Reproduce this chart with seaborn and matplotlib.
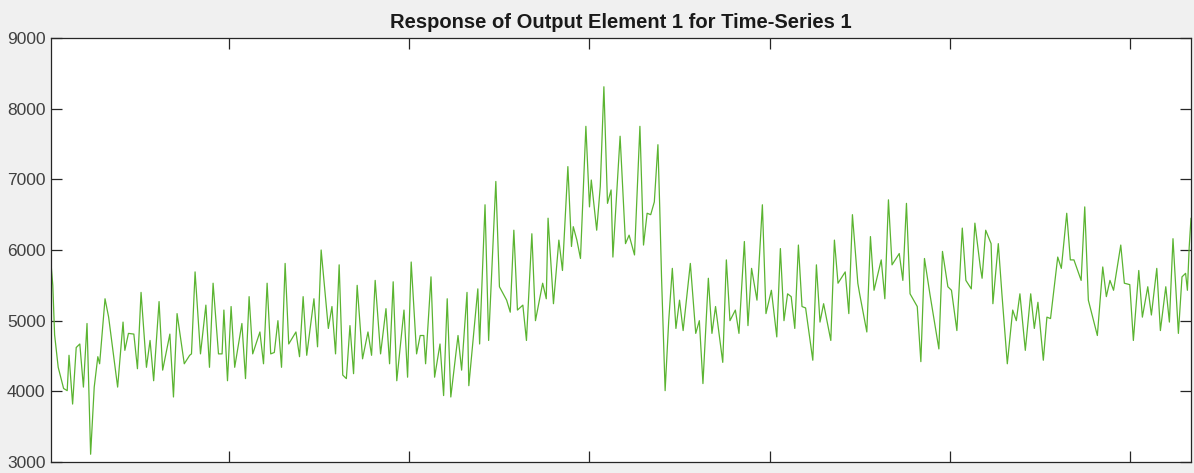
import matplotlib
matplotlib.use("Agg")
import matplotlib.pyplot as plt
import seaborn as sns
import pandas as pd

# Sample index (time step) and response value at the visible turning points
sample_idx = [
    1, 2, 3, 5, 8, 10, 11, 13, 15, 17, 19, 21, 23, 25, 27, 28, 31, 33, 38, 41,
    42, 44, 47, 49, 51, 54, 56, 58, 61, 63, 67, 69, 71, 75, 78, 79, 81, 84, 87, 89,
    91, 94, 96, 97, 99, 101, 103, 107, 109, 111, 113, 117, 119, 121, 123, 125, 127, 129, 131, 133,
    137, 139, 141, 143, 147, 149, 151, 155, 157, 159, 161, 163, 165, 167, 169, 171, 174, 177, 179, 181,
    184, 187, 189, 191, 193, 197, 199, 201, 204, 206, 208, 209, 212, 214, 217, 219, 221, 223, 227, 229,
    232, 233, 238, 239, 242, 244, 248, 250, 254, 256, 258, 260, 263, 265, 268, 270, 274, 276, 277, 280,
    283, 285, 288, 290, 291, 293, 295, 298, 300, 301, 304, 306, 308, 310, 312, 313, 317, 320, 322, 325,
    328, 330, 332, 334, 336, 338, 339, 340, 342, 344, 346, 348, 350, 352, 356, 359, 361, 363, 366, 368,
    370, 374, 376, 378, 381, 383, 386, 388, 390, 393, 396, 398, 401, 404, 406, 408, 410, 412, 414, 416,
    418, 420, 424, 426, 428, 430, 434, 436, 438, 442, 444, 446, 449, 450, 454, 456, 458, 462, 464, 466,
    468, 472, 474, 476, 478, 482, 484, 486, 489, 494, 496, 499, 501, 504, 507, 509, 512, 514, 517, 518,
    520, 523, 524, 527, 529, 532, 535, 537, 539, 542, 545, 547, 549, 552, 554, 556, 560, 562, 565, 567,
    569, 573, 575, 577, 582, 585, 587, 589, 591, 595, 597, 600, 602, 605, 607, 610, 612, 615, 617, 620,
    622, 624, 627, 629, 631, 632, 633, 634,
]
response = [
    5810, 5500, 4800, 4340, 4040, 4010, 4510, 3820, 4620, 4670, 4060, 4960, 3110, 4060, 4490, 4390, 5310, 5050, 4060, 4980,
    4580, 4820, 4810, 4320, 5400, 4340, 4720, 4150, 5270, 4300, 4810, 3920, 5100, 4390, 4510, 4530, 5690, 4530, 5220, 4340,
    5530, 4530, 4530, 5150, 4150, 5200, 4340, 4960, 4180, 5340, 4530, 4840, 4390, 5530, 4530, 4550, 5000, 4340, 5810, 4670,
    4840, 4490, 5340, 4510, 5310, 4630, 6000, 4890, 5200, 4530, 5790, 4230, 4180, 4930, 4250, 5500, 4460, 4840, 4510, 5570,
    4530, 5170, 4390, 5550, 4150, 5150, 4200, 5830, 4530, 4790, 4790, 4390, 5620, 4200, 4670, 3940, 5310, 3920, 4790, 4300,
    5400, 4080, 5450, 4670, 6640, 4720, 6970, 5480, 5290, 5120, 6280, 5150, 5220, 4720, 6230, 5000, 5530, 5310, 6450, 5240,
    6140, 5710, 7180, 6050, 6330, 6140, 5880, 7750, 6610, 6990, 6280, 6900, 8310, 6660, 6850, 5900, 7610, 6090, 6210, 5930,
    7750, 6070, 6520, 6500, 6680, 7490, 6610, 5620, 4010, 5000, 5740, 4890, 5290, 4860, 5810, 4820, 5000, 4110, 5600, 4820,
    5200, 4410, 5860, 5000, 5150, 4820, 6120, 4930, 5740, 5290, 6640, 5100, 5430, 4770, 6020, 5000, 5380, 5340, 4890, 6070,
    5200, 5180, 4440, 5790, 4980, 5240, 4720, 6140, 5530, 5690, 5100, 6500, 5530, 5380, 4840, 6190, 5430, 5860, 5310, 6710,
    5790, 5950, 5570, 6660, 5380, 5200, 4420, 5880, 5380, 4600, 5980, 5480, 5430, 4860, 6310, 5570, 5450, 6380, 5760, 5600,
    6280, 6090, 5240, 6090, 5380, 4390, 5150, 5000, 5380, 4580, 5380, 4890, 5260, 4440, 5050, 5030, 5900, 5740, 6520, 5860,
    5860, 5570, 6610, 5290, 4790, 5760, 5340, 5570, 5430, 6070, 5530, 5510, 4720, 5710, 5050, 5480, 5080, 5740, 4860, 5480,
    4980, 6160, 4820, 5620, 5670, 5430, 6040, 6450,
]
y_ticks = [3000, 4000, 5000, 6000, 7000, 8000, 9000]
x_ticks = [100, 200, 300, 400, 500, 600]
title_text = "Response of Output Element 1 for Time-Series 1"

df = pd.DataFrame({"t": sample_idx, "y": response})

sns.set_style("white")
plt.rcParams["font.family"] = ["Liberation Sans", "DejaVu Sans"]

fig = plt.figure(figsize=(11.94, 4.73), dpi=100, facecolor="#f0f0f0")
ax = fig.add_axes([51 / 1194, 11 / 473, 1140 / 1194, 424 / 473])
ax.set_facecolor("white")

sns.lineplot(data=df, x="t", y="y", ax=ax, color="#5bb431", linewidth=0.9,
             estimator=None, sort=False)

ax.set_xlim(1, 634)
ax.set_ylim(3000, 9000)
ax.set_xticks(x_ticks)
ax.set_xticklabels([])
ax.set_yticks(y_ticks)
ax.set_yticklabels([str(v) for v in y_ticks], fontsize=12.5, color="#404040")
ax.tick_params(axis="both", direction="in", length=8, width=0.9, color="#262626",
               top=True, right=True, bottom=True, left=True, pad=4)
ax.set_xlabel("")
ax.set_ylabel("")
for s in ax.spines.values():
    s.set_color("#262626")
    s.set_linewidth(0.9)
    s.set_visible(True)

ax.set_title(title_text, fontsize=14.5, fontweight="bold", color="#1a1a1a", pad=7)

fig.savefig("out.png", dpi=100, facecolor=fig.get_facecolor())
